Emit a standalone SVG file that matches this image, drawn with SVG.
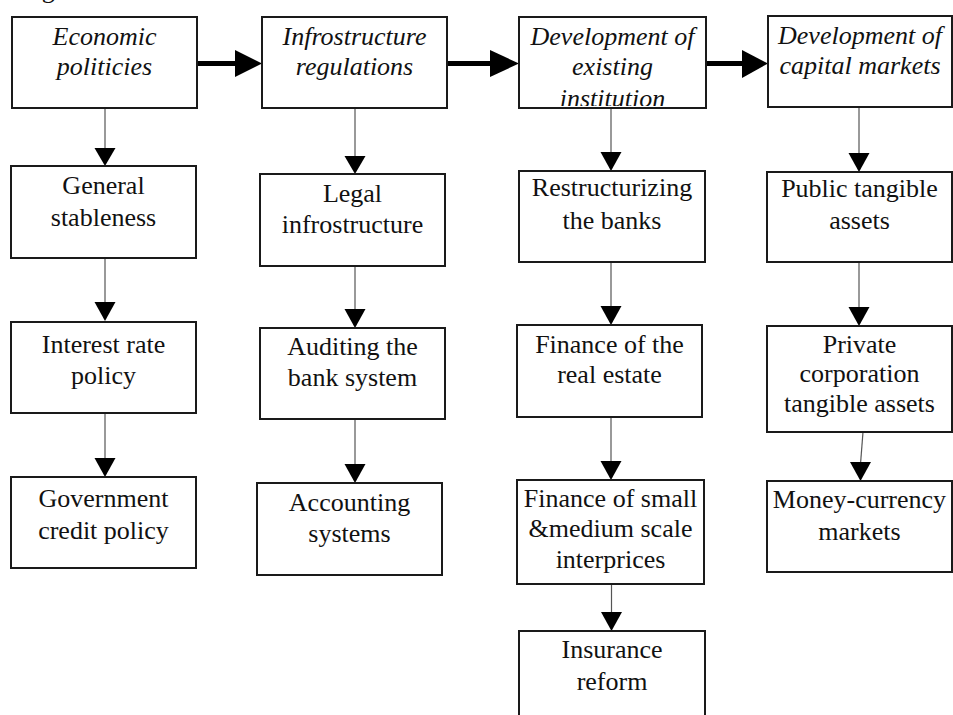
<svg xmlns="http://www.w3.org/2000/svg" width="953" height="715" viewBox="0 0 953 715">
  <style>
    .box { fill: #fff; stroke: #1a1a1a; stroke-width: 2; }
    .hdr { font-family: "Liberation Serif", "Times New Roman", serif; font-style: italic; font-size: 26px; fill: #111; text-anchor: middle; }
    .lbl { font-family: "Liberation Serif", "Times New Roman", serif; font-size: 26px; fill: #111; text-anchor: middle; }
    .thin { stroke: #555; stroke-width: 1.2; fill: none; }
    .thick { stroke: #000; stroke-width: 5; fill: none; }
    .head { fill: #000; stroke: none; }
  </style>
  <defs>
    <clipPath id="clip-dev">
      <rect x="520" y="18" width="185" height="88"/>
    </clipPath>
  </defs>
  <rect width="953" height="715" fill="#fff"/>

  <!-- caption line above the chart, mostly off the top edge -->
  <text class="lbl" x="20" y="-2" style="text-anchor:start">Figure</text>

  <!-- connectors -->
  <g id="connectors">
    <!-- main flow between the four stages -->
    <line class="thick" x1="197" y1="63.5" x2="237" y2="63.5"/>
    <polygon class="head" points="235,50 235,77 262,63.5"/>
    <line class="thick" x1="447" y1="63.5" x2="492" y2="63.5"/>
    <polygon class="head" points="490,50 490,77 519,63.5"/>
    <line class="thick" x1="706" y1="63.5" x2="744" y2="63.5"/>
    <polygon class="head" points="742,50 742,78 768,63.5"/>

    <!-- column 1 -->
    <line class="thin" x1="105" y1="108" x2="105" y2="150"/>
    <polygon class="head" points="94.5,148 115.5,148 105,166"/>
    <line class="thin" x1="105" y1="258" x2="105" y2="304"/>
    <polygon class="head" points="94.5,302 115.5,302 105,321"/>
    <line class="thin" x1="105" y1="413" x2="105" y2="460"/>
    <polygon class="head" points="94.5,458 115.5,458 105,477"/>

    <!-- column 2 -->
    <line class="thin" x1="355" y1="108" x2="355" y2="158"/>
    <polygon class="head" points="344.5,156 365.5,156 355,174"/>
    <line class="thin" x1="355" y1="266" x2="355" y2="311"/>
    <polygon class="head" points="344.5,309 365.5,309 355,328"/>
    <line class="thin" x1="355" y1="419" x2="355" y2="466"/>
    <polygon class="head" points="344.5,464 365.5,464 355,483"/>

    <!-- column 3 -->
    <line class="thin" x1="611" y1="108" x2="611" y2="154"/>
    <polygon class="head" points="600.5,152 621.5,152 611,171"/>
    <line class="thin" x1="611" y1="262" x2="611" y2="308"/>
    <polygon class="head" points="600.5,306 621.5,306 611,325"/>
    <line class="thin" x1="611" y1="417" x2="611" y2="463"/>
    <polygon class="head" points="600.5,461 621.5,461 611,480"/>
    <line class="thin" x1="611.5" y1="584" x2="611.5" y2="614"/>
    <polygon class="head" points="601,612 622,612 611.5,631"/>

    <!-- column 4 -->
    <line class="thin" x1="859" y1="107" x2="859" y2="155"/>
    <polygon class="head" points="848.5,153 869.5,153 859,172"/>
    <line class="thin" x1="859" y1="262" x2="859" y2="309"/>
    <polygon class="head" points="848.5,307 869.5,307 859,326"/>
    <line class="thin" x1="863" y1="432" x2="860.5" y2="464"/>
    <polygon class="head" points="850,462 871,462 860.5,481"/>
  </g>

  <!-- stage 1 -->
  <g id="economic-politicies">
    <rect class="box" x="12" y="17" width="185" height="91"/>
    <text class="hdr" x="104.5" y="45">Economic</text>
    <text class="hdr" x="104.5" y="75">politicies</text>
  </g>
  <g id="general-stableness">
    <rect class="box" x="11" y="166" width="185" height="92"/>
    <text class="lbl" x="103.5" y="194">General</text>
    <text class="lbl" x="103.5" y="226">stableness</text>
  </g>
  <g id="interest-rate-policy">
    <rect class="box" x="11" y="322" width="185" height="91"/>
    <text class="lbl" x="103.5" y="353">Interest rate</text>
    <text class="lbl" x="103.5" y="384">policy</text>
  </g>
  <g id="government-credit-policy">
    <rect class="box" x="11" y="477" width="185" height="91"/>
    <text class="lbl" x="103.5" y="507">Government</text>
    <text class="lbl" x="103.5" y="539">credit policy</text>
  </g>

  <!-- stage 2 -->
  <g id="infrostructure-regulations">
    <rect class="box" x="262" y="17" width="185" height="91"/>
    <text class="hdr" x="354.5" y="45">Infrostructure</text>
    <text class="hdr" x="354.5" y="75">regulations</text>
  </g>
  <g id="legal-infrostructure">
    <rect class="box" x="260" y="174" width="185" height="92"/>
    <text class="lbl" x="352.5" y="202">Legal</text>
    <text class="lbl" x="352.5" y="233">infrostructure</text>
  </g>
  <g id="auditing-bank-system">
    <rect class="box" x="260" y="328" width="185" height="91"/>
    <text class="lbl" x="352.5" y="355">Auditing the</text>
    <text class="lbl" x="352.5" y="386">bank system</text>
  </g>
  <g id="accounting-systems">
    <rect class="box" x="257" y="483" width="185" height="92"/>
    <text class="lbl" x="349.5" y="511">Accounting</text>
    <text class="lbl" x="349.5" y="542">systems</text>
  </g>

  <!-- stage 3 -->
  <g id="development-existing-institution">
    <rect class="box" x="519" y="17" width="187" height="91"/>
    <g clip-path="url(#clip-dev)">
      <text class="hdr" x="612.5" y="45">Development of</text>
      <text class="hdr" x="612.5" y="75">existing</text>
      <text class="hdr" x="612.5" y="107">institution</text>
    </g>
    <rect x="519" y="17" width="187" height="91" fill="none" stroke="#1a1a1a" stroke-width="2"/>
  </g>
  <g id="restructurizing-banks">
    <rect class="box" x="519" y="171" width="186" height="91"/>
    <text class="lbl" x="612" y="196">Restructurizing</text>
    <text class="lbl" x="612" y="229">the banks</text>
  </g>
  <g id="finance-real-estate">
    <rect class="box" x="517" y="325" width="185" height="92"/>
    <text class="lbl" x="609.5" y="353">Finance of the</text>
    <text class="lbl" x="609.5" y="383">real estate</text>
  </g>
  <g id="finance-small-medium">
    <rect class="box" x="517" y="480" width="187" height="104"/>
    <text class="lbl" x="610.5" y="507">Finance of small</text>
    <text class="lbl" x="610.5" y="537">&amp;medium scale</text>
    <text class="lbl" x="610.5" y="568">interprices</text>
  </g>
  <g id="insurance-reform">
    <rect class="box" x="519" y="631" width="186" height="100"/>
    <text class="lbl" x="612" y="658">Insurance</text>
    <text class="lbl" x="612" y="690">reform</text>
  </g>

  <!-- stage 4 -->
  <g id="development-capital-markets">
    <rect class="box" x="768" y="16" width="184" height="91"/>
    <text class="hdr" x="860" y="44">Development of</text>
    <text class="hdr" x="860" y="74">capital markets</text>
  </g>
  <g id="public-tangible-assets">
    <rect class="box" x="767" y="172" width="185" height="90"/>
    <text class="lbl" x="859.5" y="197">Public tangible</text>
    <text class="lbl" x="859.5" y="229">assets</text>
  </g>
  <g id="private-corporation-assets">
    <rect class="box" x="767" y="326" width="185" height="106"/>
    <text class="lbl" x="859.5" y="353">Private</text>
    <text class="lbl" x="859.5" y="382">corporation</text>
    <text class="lbl" x="859.5" y="412">tangible assets</text>
  </g>
  <g id="money-currency-markets">
    <rect class="box" x="767" y="481" width="185" height="91"/>
    <text class="lbl" x="859.5" y="508">Money-currency</text>
    <text class="lbl" x="859.5" y="540">markets</text>
  </g>
</svg>
